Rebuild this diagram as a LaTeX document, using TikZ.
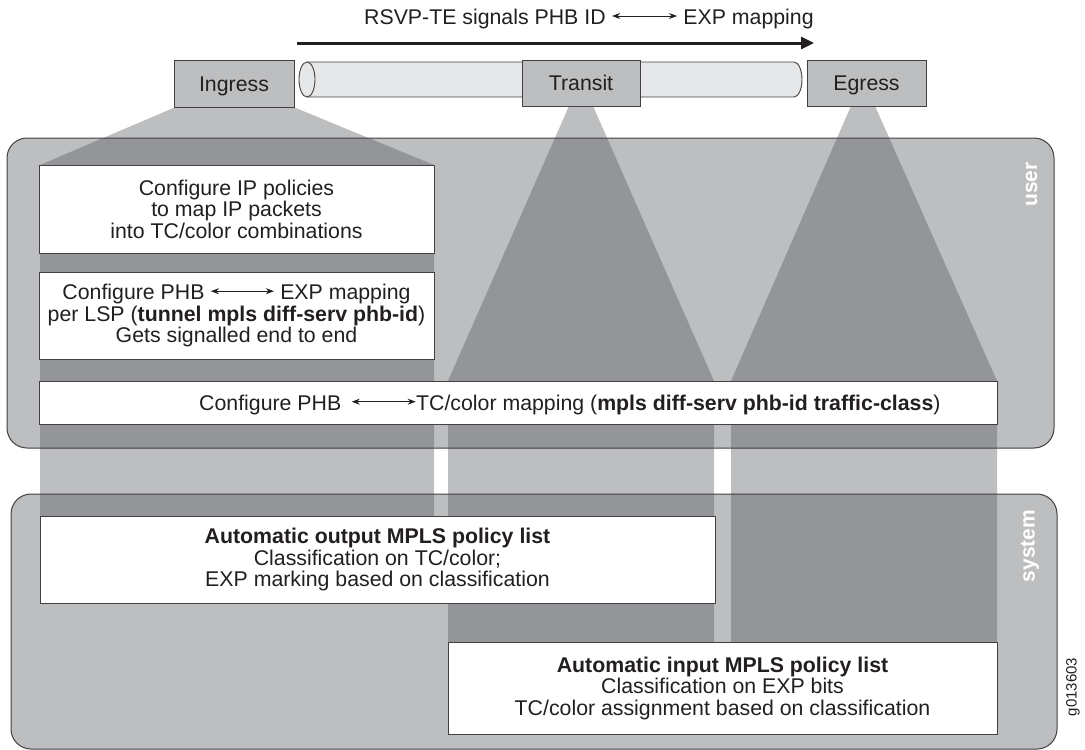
\documentclass[tikz,border=0pt]{standalone}
\usepackage{fontspec}
\setmainfont{Liberation Sans}
\usetikzlibrary{arrows.meta}
\definecolor{lightg}{HTML}{BCBEC0}
\definecolor{darkg}{HTML}{939598}
\definecolor{pipeg}{HTML}{E6E7E8}
\definecolor{edgec}{HTML}{414042}
\definecolor{txtc}{HTML}{231F20}
\newcommand{\fs}{\fontsize{21.3}{21.5}\selectfont}
\newcommand{\lrarr}[1]{\tikz[baseline=0pt,x=1pt,y=1pt]\draw[line width=0.9pt,txtc,{Stealth[length=8pt,width=6pt]}-{Stealth[length=8pt,width=6pt]}] (0,8.3) -- (#1,8.3);}
\tikzset{
  wbox/.style={draw=edgec, line width=0.9pt, fill=white, inner sep=0pt, align=center, font=\fs, text=txtc},
  gbox/.style={draw=edgec, line width=0.9pt, fill=lightg, inner sep=0pt, font=\fs, text=txtc, text height=15.3pt, text depth=0pt},
  panel/.style={draw=edgec, line width=1pt, rounded corners=20pt},
  sidelbl/.style={text=white, font=\fontsize{21}{21}\selectfont\bfseries, rotate=90, inner sep=0pt},
}
\begin{document}
\begin{tikzpicture}[x=1pt,y=-1pt]
\useasboundingbox (0,0) rectangle (1085,750);
% beams (light, full)
\def\beamIng{(178,106) -- (291,106) -- (434,165) -- (434,560) -- (40,560) -- (40,165) -- cycle}
\def\beamTra{(569,106) -- (593,106) -- (714,381) -- (714,690) -- (448,690) -- (448,381) -- cycle}
\def\beamEgr{(851,106) -- (875,106) -- (997,381) -- (997,690) -- (731,690) -- (731,381) -- cycle}
\fill[lightg] \beamIng;
\fill[lightg] \beamTra;
\fill[lightg] \beamEgr;
% panels
\fill[lightg, rounded corners=20pt] (7,138) rectangle (1054,448);
\fill[lightg, rounded corners=20pt] (11,494) rectangle (1057,749);
\begin{scope}
  \clip[rounded corners=20pt] (7,138) rectangle (1054,448) (11,494) rectangle (1057,749);
  \fill[darkg] \beamIng;
  \fill[darkg] \beamTra;
  \fill[darkg] \beamEgr;
\end{scope}
\draw[panel] (7,138) rectangle (1054,448);
\draw[panel] (11,494) rectangle (1057,749);
% white boxes
\node[wbox, minimum width=395pt, minimum height=88pt] (ippol) at (236.5,209)
  {Configure IP policies\\to map IP packets\\into TC/color combinations};
\node[wbox, minimum width=395pt, minimum height=87pt] (phbexp) at (236.5,315.5)
  {Configure PHB \lrarr{63} EXP mapping\\per LSP (\textbf{tunnel mpls diff-serv phb-id})\\Gets signalled end to end};
\node[wbox, minimum width=958pt, minimum height=43pt] (phbtc) at (518,402.5) {};
\node[anchor=base west, font=\fs, text=txtc, inner sep=0pt] (phbtctext) at (199,410)
  {Configure PHB\hspace{10pt}\lrarr{64}TC/color mapping (\textbf{mpls diff-serv phb-id traffic-class})};
\node[wbox, minimum width=675pt, minimum height=87pt] (outlist) at (377.5,559.5)
  {\textbf{Automatic output MPLS policy list}\\Classification on TC/color;\\EXP marking based on classification};
\node[wbox, minimum width=549pt, minimum height=92pt] (inlist) at (722.5,688)
  {\textbf{Automatic input MPLS policy list}\\Classification on EXP bits\\TC/color assignment based on classification};
% side labels
\node[sidelbl] (userlbl) at (1031.5,184.5) {user};
\node[sidelbl] (syslbl) at (1030,546) {system};
\node[rotate=90, font=\fontsize{15}{15}\selectfont, text=txtc, inner sep=0pt] (figid) at (1073,687) {g013603};
% pipe
\draw[draw=edgec, line width=0.9pt, fill=pipeg] (307,62) -- (794,62)
  arc[start angle=-90, end angle=90, x radius=8, y radius=17.5] -- (307,97);
\draw[draw=edgec, line width=0.9pt, fill=pipeg] (307,79.5) ellipse[x radius=8, y radius=17.5];
% routers
\node[gbox, minimum width=120pt, minimum height=47pt] (ingress) at (234,83.5) {Ingress};
\node[gbox, minimum width=118pt, minimum height=46pt] (transit) at (581,83) {Transit};
\node[gbox, minimum width=119pt, minimum height=46pt] (egress) at (866.5,83) {Egress};
% signalling arrow
\coordinate (sigA) at (297,43);
\coordinate (sigB) at (814,43);
\draw[txtc, line width=3pt, -{Triangle[length=13pt,width=12pt]}] (sigA) -- (sigB);
\node[anchor=base west, font=\fs, text=txtc, inner sep=0pt] (siglbl) at (364,24.3)
  {RSVP-TE signals PHB ID \lrarr{65} EXP mapping};
\end{tikzpicture}
\end{document}
